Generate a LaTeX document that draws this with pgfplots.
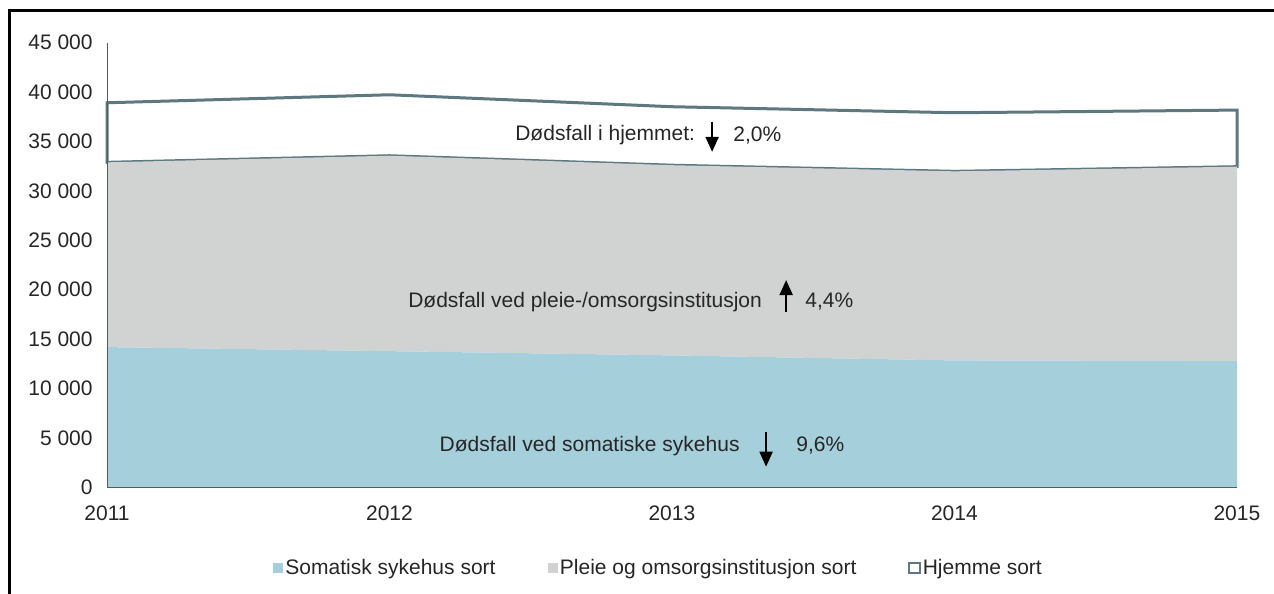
\documentclass[border=0pt]{standalone}
\usepackage{fontspec}
\setmainfont{Liberation Sans}
\usepackage{pgfplots}
\usepackage{pgfplotstable}
\pgfplotsset{compat=1.18}
\usetikzlibrary{arrows.meta}

\definecolor{somblue}{RGB}{166,207,220}
\definecolor{pleiegray}{RGB}{209,211,211}
\definecolor{hjemslate}{RGB}{94,120,128}
\definecolor{axgray}{RGB}{89,89,89}
\definecolor{txt}{RGB}{38,38,38}

% dodsfall etter sted, 2011-2015
\pgfplotstableread{
year som   pleie hjem
2011 14190 18700 6030
2012 13780 19780 6170
2013 13350 19250 5920
2014 12840 19140 5930
2015 12770 19680 5730
}\deaths

\begin{document}
\begin{tikzpicture}[font=\fontsize{10.5bp}{12.6bp}\selectfont, >={Triangle[width=6.5bp,length=7.5bp]}]
\useasboundingbox (0,0) rectangle (637bp,297bp);
\draw[black, line width=1.2bp] (4.75bp,0) -- (4.75bp,291.75bp) -- (637bp,291.75bp);
\begin{axis}[
    at={(53.5bp,53.35bp)}, anchor=south west,
    scale only axis, width=565bp, height=222.3bp,
    xmin=2011, xmax=2015, ymin=0, ymax=45000,
    stack plots=y, area style, clip=false, axis on top,
    axis x line*=bottom, axis y line*=left,
    axis line style={axgray, line width=0.5bp},
    xtick={2011,...,2015}, ytick={0,5000,...,45000},
    major tick length=0pt,
    scaled y ticks=false,
    /pgf/number format/assume math mode=true,
    yticklabel style={/pgf/number format/1000 sep={\ }, inner sep=0pt, xshift=-7bp, text=txt},
    xticklabel style={/pgf/number format/1000 sep={}, inner sep=0pt, yshift=-9bp, text=txt},
    legend columns=3,
    legend cell align=left,
    legend style={at={(0.488,-0.1815)}, anchor=center, draw=none, fill=none,
        text=txt, /tikz/every even column/.append style={column sep=25bp},
        nodes={inner sep=1bp}},
    legend image code/.code={\path[#1, line width=1bp] (0bp,-2.6bp) rectangle (5.2bp,2.6bp);},
]
\addplot[fill=somblue, draw=none] table[x=year, y=som] {\deaths} \closedcycle;
\addlegendentry{Somatisk sykehus sort}
\addplot[fill=pleiegray, draw=none] table[x=year, y=pleie] {\deaths} \closedcycle;
\addlegendentry{Pleie og omsorgsinstitusjon sort}
\addplot[fill=white, draw=hjemslate, line width=1.5bp] table[x=year, y=hjem] {\deaths} \closedcycle;
\addlegendentry{Hjemme sort}

% ankerpunkter for tekstene
\coordinate (t1) at (axis cs:2012.444,35650);
\coordinate (a1s) at (axis cs:2013.142,37000);
\coordinate (a1e) at (axis cs:2013.142,33950);
\coordinate (p1) at (axis cs:2013.216,35650);
\coordinate (t2) at (axis cs:2012.065,18780);
\coordinate (a2s) at (axis cs:2013.404,17770);
\coordinate (a2e) at (axis cs:2013.404,20980);
\coordinate (p2) at (axis cs:2013.471,18780);
\coordinate (t3) at (axis cs:2012.176,4180);
\coordinate (a3s) at (axis cs:2013.333,5630);
\coordinate (a3e) at (axis cs:2013.333,2085);
\coordinate (p3) at (axis cs:2013.439,4180);
\end{axis}
\begin{scope}[every node/.style={anchor=west, inner sep=0pt, text=txt}]
\node at (t1) {Dødsfall i hjemmet:};
\draw[->, line width=1bp] (a1s) -- (a1e);
\node at (p1) {2,0\%};
\node at (t2) {Dødsfall ved pleie-/omsorgsinstitusjon};
\draw[->, line width=1bp] (a2s) -- (a2e);
\node at (p2) {4,4\%};
\node at (t3) {Dødsfall ved somatiske sykehus};
\draw[->, line width=1bp] (a3s) -- (a3e);
\node at (p3) {9,6\%};
\end{scope}
\end{tikzpicture}
\end{document}
